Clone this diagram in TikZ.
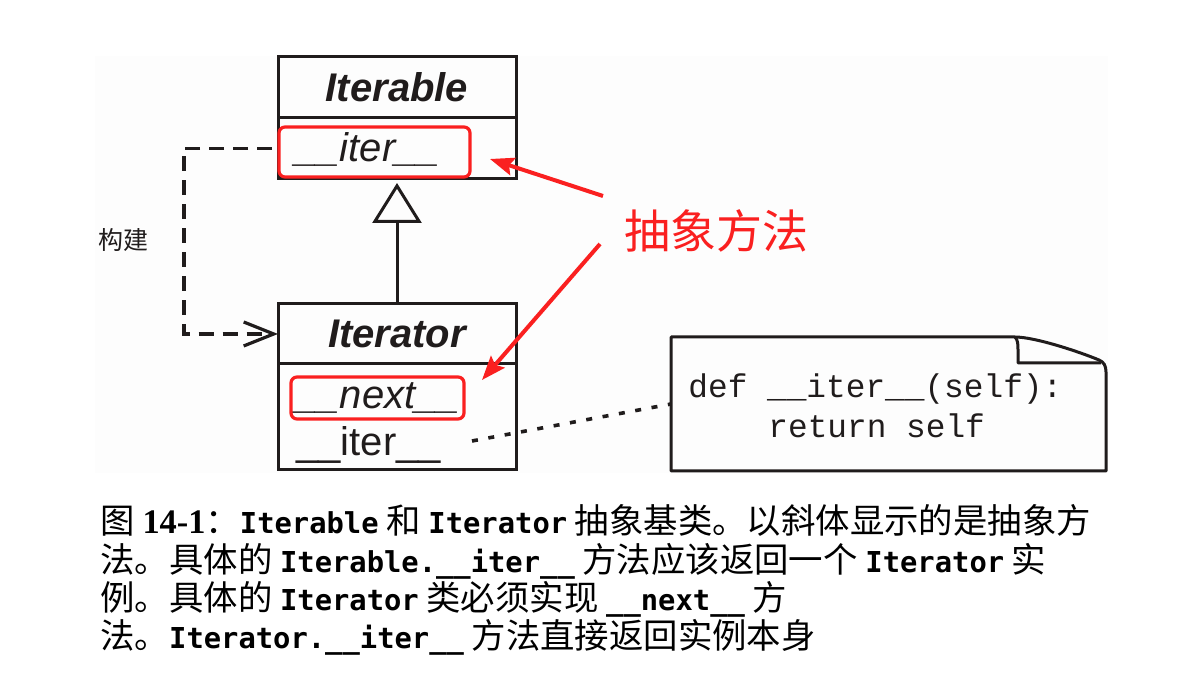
\documentclass[tikz,border=0pt]{standalone}
\usepackage{fontspec}
\setmainfont{Liberation Sans}
\newfontfamily\cjk{Noto Sans CJK SC}
\newfontfamily\codefont{Liberation Mono}
\newfontfamily\capmono{DejaVu Sans Mono}
\newfontfamily\capserif{Liberation Serif}
\usetikzlibrary{arrows.meta}
\definecolor{ared}{RGB}{250,32,32}
\definecolor{ink}{RGB}{32,28,28}
\newcommand\cw[1]{{\capmono\bfseries\fontsize{14.4}{18}\selectfont #1}}
\begin{document}
\begin{tikzpicture}[x=0.5pt,y=-0.5pt,
  box/.style={draw=ink, line width=1.5pt, minimum width=119pt, inner sep=0pt, outer sep=0pt},
  hdr/.style={box, font=\fontsize{20}{24}\selectfont\bfseries\itshape, text=ink},
  meth/.style={inner sep=0pt, anchor=base west, font=\fontsize{20}{24}\selectfont, text=ink},
  redbox/.style={draw=ared, line width=1.6pt, rounded corners=3pt, inner sep=0pt},
  redarrow/.style={draw=ared, line width=2pt, -{Stealth[length=12pt,width=9pt,inset=2pt]}},
  dashline/.style={draw=ink, line width=1.6pt, dash pattern=on 7.5pt off 4.5pt},
  dotline/.style={draw=ink, line width=1.8pt, dash pattern=on 3pt off 5.3pt},
  code/.style={inner sep=0pt, anchor=base west, font=\codefont\fontsize{16.4}{20}\selectfont, text=ink},
  captext/.style={inner sep=0pt, anchor=base west, font=\cjk\fontsize{17.2}{20}\selectfont, text=black}]
\useasboundingbox (0,0) rectangle (1200,683);
\fill[black!0.8] (95,56) rectangle (1108,473);

% Iterable class
\node[hdr, minimum height=30.5pt] (iterableH) at (397,87.5) {Iterable};
\node[box, minimum height=30.5pt, anchor=north] (iterableB) at (iterableH.south) {};
\node[meth, font=\fontsize{20}{24}\selectfont\itshape] (m1) at (295,162) {\_\_iter\_\_};
\node[redbox, minimum width=95.5pt, minimum height=25pt] (hl1) at (374.5,152) {};

% Iterator class
\node[hdr, minimum height=30pt] (iteratorH) at (397,334) {Iterator};
\node[box, minimum height=53pt, anchor=north] (iteratorB) at (iteratorH.south) {};
\node[meth, font=\fontsize{20}{24}\selectfont\itshape] (m2) at (295,409) {\_\_next\_\_};
\node[redbox, minimum width=86.5pt, minimum height=21pt] (hl2) at (377.5,398) {};
\node[meth] (m3) at (296,456) {\_\_iter\_\_};

% inheritance
\draw[draw=ink, line width=1.5pt, shorten >=2pt, -{Triangle[open,length=20pt,width=24.5pt]}]
  (iteratorH.north) -- (iterableB.south);

% construct (dashed)
\draw[dashline, shorten <=3pt, -{Straight Barb[length=15pt,width=12pt]}]
  (iterableB.west) -- ++(-94,0) |- (iteratorH.west);
\node[inner sep=0pt, font=\cjk\fontsize{12.5}{15}\selectfont, text=ink] (build) at (123,240) {构建};

% abstract method label and arrows
\node[inner sep=0pt, font=\cjk\fontsize{23}{28}\selectfont, text=ared] (label) at (716,231) {抽象方法};
\coordinate (t1) at (603,196);
\coordinate (h1) at (490,159);
\coordinate (t2) at (600,244);
\coordinate (h2) at (482,380);
\draw[redarrow] (t1) -- (h1);
\draw[redarrow] (t2) -- (h2);

% note
\coordinate (nNW) at (671,337);
\coordinate (nFold) at (1015,337);
\coordinate (nNE) at (1106,372);
\coordinate (nSE) at (1106,471);
\coordinate (nSW) at (671,471);
\coordinate (noteW) at (671,404);
\draw[draw=ink, line width=1.5pt, line join=round]
  (nFold) -- (nNW) -- (nSW) -- (nSE) -- (nNE)
  .. controls (1106,366) and (1104,362) .. (1099,360)
  .. controls (1080,352) and (1035,337) .. (nFold);
\draw[draw=ink, line width=1.5pt, line join=round]
  (nFold) .. controls (1018,340) and (1018,345) .. (1018,350) -- (1018,363) -- (1101,363);
\node[code] (c1) at (688,398) {def \_\_iter\_\_(self):};
\node[code] (c2) at (768,438) {return self};

% dotted note link
\coordinate (dotS) at (472,441);
\draw[dotline] (dotS) -- (noteW);

% caption
\node[captext] (l1) at (100,534) {图 {\capserif\bfseries 14-1}：\cw{Iterable} 和 \cw{Iterator} 抽象基类。以斜体显示的是抽象方};
\node[captext] (l2) at (100,573) {法。具体的 \cw{Iterable.\_\_iter\_\_} 方法应该返回一个 \cw{Iterator} 实};
\node[captext] (l3) at (100,611) {例。具体的 \cw{Iterator} 类必须实现 \cw{\_\_next\_\_} 方};
\node[captext] (l4) at (100,649) {法。\cw{Iterator.\_\_iter\_\_} 方法直接返回实例本身};
\end{tikzpicture}
\end{document}
